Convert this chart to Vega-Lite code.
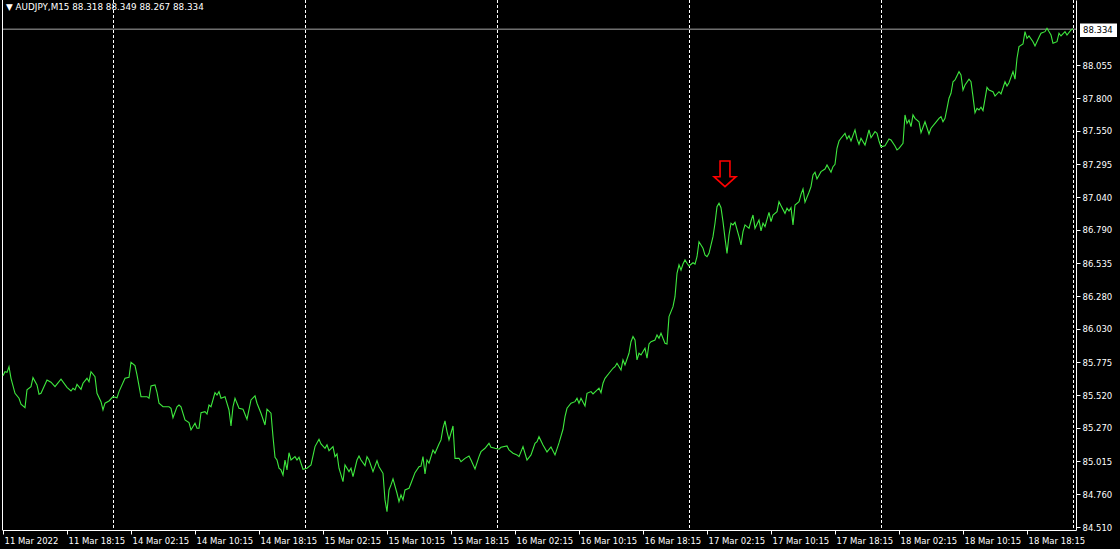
{
  "$schema": "https://vega.github.io/schema/vega-lite/v6.json",
  "width": 1074,
  "height": 530,
  "autosize": {"type": "none"},
  "padding": {"left": 2, "top": 0, "right": 44, "bottom": 19},
  "background": "#000000",
  "config": {"view": {"stroke": null, "fill": "#000000"}, "font": "DejaVu Sans"},
  "resolve": {"axis": {"x": "independent", "y": "independent"}},
  "datasets": {
    "price": [
      {"i":0,"p":85.671},{"i":1,"p":85.702},{"i":2,"p":85.697},{"i":3,"p":85.740},{"i":4,"p":85.651},{"i":6,"p":85.536},{"i":8,"p":85.498},{"i":9,"p":85.452},{"i":11,"p":85.426},{"i":12,"p":85.562},{"i":14,"p":85.587},{"i":15,"p":85.656},{"i":17,"p":85.600},{"i":18,"p":85.529},{"i":19,"p":85.536},{"i":22,"p":85.638},{"i":24,"p":85.621},{"i":26,"p":85.587},{"i":29,"p":85.644},{"i":32,"p":85.582},{"i":34,"p":85.554},{"i":35,"p":85.575},{"i":36,"p":85.562},{"i":37,"p":85.605},{"i":39,"p":85.567},{"i":40,"p":85.613},{"i":42,"p":85.651},{"i":43,"p":85.625},{"i":44,"p":85.702},{"i":46,"p":85.664},{"i":47,"p":85.536},{"i":49,"p":85.472},{"i":50,"p":85.408},{"i":51,"p":85.460},{"i":53,"p":85.477},{"i":55,"p":85.510},{"i":57,"p":85.502},{"i":58,"p":85.549},{"i":61,"p":85.651},{"i":63,"p":85.659},{"i":64,"p":85.774},{"i":66,"p":85.748},{"i":67,"p":85.677},{"i":69,"p":85.510},{"i":72,"p":85.510},{"i":73,"p":85.498},{"i":74,"p":85.592},{"i":76,"p":85.600},{"i":77,"p":85.544},{"i":78,"p":85.460},{"i":80,"p":85.433},{"i":83,"p":85.433},{"i":84,"p":85.421},{"i":85,"p":85.349},{"i":87,"p":85.433},{"i":88,"p":85.446},{"i":89,"p":85.433},{"i":91,"p":85.331},{"i":93,"p":85.311},{"i":94,"p":85.255},{"i":96,"p":85.306},{"i":97,"p":85.268},{"i":98,"p":85.268},{"i":99,"p":85.387},{"i":101,"p":85.395},{"i":102,"p":85.377},{"i":103,"p":85.446},{"i":104,"p":85.433},{"i":106,"p":85.541},{"i":107,"p":85.523},{"i":108,"p":85.549},{"i":109,"p":85.498},{"i":111,"p":85.510},{"i":113,"p":85.408},{"i":114,"p":85.285},{"i":115,"p":85.433},{"i":116,"p":85.498},{"i":118,"p":85.421},{"i":120,"p":85.414},{"i":122,"p":85.337},{"i":124,"p":85.485},{"i":126,"p":85.516},{"i":127,"p":85.460},{"i":129,"p":85.383},{"i":131,"p":85.293},{"i":132,"p":85.414},{"i":134,"p":85.383},{"i":135,"p":85.203},{"i":136,"p":85.045},{"i":137,"p":85.024},{"i":138,"p":84.961},{"i":139,"p":84.948},{"i":140,"p":84.909},{"i":141,"p":85.024},{"i":142,"p":84.948},{"i":143,"p":85.080},{"i":144,"p":85.024},{"i":146,"p":85.050},{"i":147,"p":85.024},{"i":148,"p":85.045},{"i":150,"p":84.953},{"i":152,"p":84.961},{"i":154,"p":84.986},{"i":156,"p":85.127},{"i":158,"p":85.183},{"i":159,"p":85.147},{"i":161,"p":85.114},{"i":162,"p":85.140},{"i":163,"p":85.096},{"i":165,"p":85.127},{"i":166,"p":85.050},{"i":167,"p":85.071},{"i":168,"p":84.961},{"i":170,"p":84.858},{"i":171,"p":84.986},{"i":173,"p":84.935},{"i":174,"p":84.961},{"i":175,"p":84.896},{"i":177,"p":85.024},{"i":178,"p":85.055},{"i":179,"p":85.024},{"i":181,"p":84.981},{"i":182,"p":85.050},{"i":183,"p":85.024},{"i":185,"p":84.935},{"i":187,"p":85.019},{"i":188,"p":84.973},{"i":190,"p":84.922},{"i":191,"p":84.718},{"i":192,"p":84.628},{"i":193,"p":84.794},{"i":194,"p":84.833},{"i":195,"p":84.879},{"i":197,"p":84.769},{"i":198,"p":84.705},{"i":199,"p":84.756},{"i":200,"p":84.718},{"i":201,"p":84.794},{"i":203,"p":84.807},{"i":204,"p":84.846},{"i":206,"p":84.927},{"i":208,"p":84.973},{"i":209,"p":84.978},{"i":210,"p":85.050},{"i":211,"p":84.917},{"i":212,"p":85.024},{"i":213,"p":84.999},{"i":215,"p":85.101},{"i":216,"p":85.076},{"i":218,"p":85.147},{"i":219,"p":85.178},{"i":220,"p":85.268},{"i":221,"p":85.324},{"i":222,"p":85.242},{"i":223,"p":85.178},{"i":225,"p":85.285},{"i":226,"p":85.037},{"i":228,"p":85.037},{"i":229,"p":85.011},{"i":231,"p":85.037},{"i":233,"p":85.055},{"i":234,"p":85.024},{"i":236,"p":84.955},{"i":238,"p":85.050},{"i":239,"p":85.088},{"i":241,"p":85.114},{"i":243,"p":85.152},{"i":244,"p":85.122},{"i":246,"p":85.114},{"i":248,"p":85.107},{"i":249,"p":85.122},{"i":252,"p":85.132},{"i":253,"p":85.101},{"i":255,"p":85.076},{"i":257,"p":85.063},{"i":258,"p":85.050},{"i":260,"p":85.127},{"i":262,"p":85.024},{"i":264,"p":85.063},{"i":266,"p":85.152},{"i":267,"p":85.165},{"i":268,"p":85.203},{"i":270,"p":85.140},{"i":272,"p":85.086},{"i":274,"p":85.124},{"i":276,"p":85.063},{"i":278,"p":85.155},{"i":280,"p":85.260},{"i":281,"p":85.357},{"i":282,"p":85.421},{"i":284,"p":85.460},{"i":286,"p":85.472},{"i":287,"p":85.498},{"i":288,"p":85.460},{"i":289,"p":85.498},{"i":291,"p":85.439},{"i":292,"p":85.536},{"i":294,"p":85.549},{"i":295,"p":85.531},{"i":298,"p":85.575},{"i":299,"p":85.541},{"i":300,"p":85.613},{"i":301,"p":85.651},{"i":303,"p":85.690},{"i":305,"p":85.728},{"i":306,"p":85.740},{"i":307,"p":85.766},{"i":309,"p":85.715},{"i":310,"p":85.792},{"i":311,"p":85.753},{"i":313,"p":85.843},{"i":314,"p":85.932},{"i":315,"p":85.971},{"i":316,"p":85.945},{"i":317,"p":85.792},{"i":318,"p":85.843},{"i":319,"p":85.830},{"i":321,"p":85.882},{"i":322,"p":85.805},{"i":323,"p":85.915},{"i":324,"p":85.932},{"i":326,"p":85.945},{"i":327,"p":85.984},{"i":328,"p":85.958},{"i":329,"p":85.997},{"i":331,"p":85.920},{"i":332,"p":85.915},{"i":333,"p":86.124},{"i":335,"p":86.201},{"i":336,"p":86.277},{"i":337,"p":86.457},{"i":338,"p":86.521},{"i":339,"p":86.482},{"i":340,"p":86.528},{"i":341,"p":86.559},{"i":342,"p":86.534},{"i":343,"p":86.513},{"i":345,"p":86.538},{"i":346,"p":86.528},{"i":347,"p":86.584},{"i":348,"p":86.699},{"i":350,"p":86.649},{"i":351,"p":86.597},{"i":352,"p":86.584},{"i":353,"p":86.610},{"i":355,"p":86.738},{"i":356,"p":86.841},{"i":357,"p":86.968},{"i":358,"p":86.994},{"i":359,"p":86.960},{"i":360,"p":86.853},{"i":361,"p":86.726},{"i":362,"p":86.610},{"i":363,"p":86.751},{"i":364,"p":86.841},{"i":365,"p":86.828},{"i":366,"p":86.848},{"i":368,"p":86.738},{"i":369,"p":86.674},{"i":370,"p":86.776},{"i":371,"p":86.828},{"i":373,"p":86.802},{"i":374,"p":86.858},{"i":375,"p":86.904},{"i":376,"p":86.802},{"i":378,"p":86.866},{"i":379,"p":86.782},{"i":380,"p":86.841},{"i":381,"p":86.815},{"i":383,"p":86.925},{"i":384,"p":86.853},{"i":385,"p":86.904},{"i":387,"p":86.930},{"i":388,"p":87.006},{"i":389,"p":86.976},{"i":391,"p":86.917},{"i":392,"p":86.956},{"i":393,"p":86.935},{"i":394,"p":86.960},{"i":395,"p":86.828},{"i":396,"p":86.981},{"i":398,"p":87.006},{"i":399,"p":87.063},{"i":400,"p":87.104},{"i":401,"p":87.002},{"i":403,"p":87.079},{"i":404,"p":87.122},{"i":405,"p":87.211},{"i":406,"p":87.232},{"i":407,"p":87.181},{"i":409,"p":87.237},{"i":411,"p":87.257},{"i":412,"p":87.288},{"i":414,"p":87.232},{"i":415,"p":87.275},{"i":416,"p":87.293},{"i":417,"p":87.416},{"i":418,"p":87.472},{"i":419,"p":87.493},{"i":421,"p":87.531},{"i":422,"p":87.488},{"i":423,"p":87.513},{"i":424,"p":87.472},{"i":426,"p":87.557},{"i":427,"p":87.488},{"i":428,"p":87.447},{"i":429,"p":87.493},{"i":431,"p":87.441},{"i":432,"p":87.497},{"i":433,"p":87.557},{"i":434,"p":87.497},{"i":436,"p":87.544},{"i":437,"p":87.531},{"i":438,"p":87.472},{"i":439,"p":87.428},{"i":441,"p":87.436},{"i":443,"p":87.488},{"i":444,"p":87.480},{"i":446,"p":87.434},{"i":447,"p":87.403},{"i":448,"p":87.416},{"i":450,"p":87.454},{"i":451,"p":87.672},{"i":452,"p":87.608},{"i":453,"p":87.633},{"i":454,"p":87.582},{"i":455,"p":87.672},{"i":456,"p":87.646},{"i":458,"p":87.620},{"i":459,"p":87.536},{"i":461,"p":87.620},{"i":463,"p":87.526},{"i":464,"p":87.570},{"i":466,"p":87.608},{"i":468,"p":87.646},{"i":469,"p":87.659},{"i":470,"p":87.620},{"i":471,"p":87.646},{"i":472,"p":87.723},{"i":473,"p":87.800},{"i":474,"p":87.838},{"i":475,"p":87.927},{"i":476,"p":87.940},{"i":478,"p":88.004},{"i":479,"p":87.979},{"i":480,"p":87.863},{"i":481,"p":87.902},{"i":483,"p":87.946},{"i":484,"p":87.927},{"i":485,"p":87.812},{"i":486,"p":87.689},{"i":487,"p":87.723},{"i":488,"p":87.710},{"i":489,"p":87.731},{"i":490,"p":87.705},{"i":492,"p":87.884},{"i":493,"p":87.863},{"i":495,"p":87.850},{"i":496,"p":87.817},{"i":498,"p":87.850},{"i":499,"p":87.833},{"i":501,"p":87.927},{"i":502,"p":87.894},{"i":503,"p":87.919},{"i":505,"p":88.004},{"i":506,"p":87.946},{"i":507,"p":88.107},{"i":508,"p":88.196},{"i":510,"p":88.216},{"i":511,"p":88.311},{"i":512,"p":88.260},{"i":513,"p":88.278},{"i":515,"p":88.234},{"i":516,"p":88.201},{"i":518,"p":88.268},{"i":519,"p":88.299},{"i":521,"p":88.311},{"i":522,"p":88.337},{"i":524,"p":88.285},{"i":525,"p":88.222},{"i":527,"p":88.234},{"i":528,"p":88.299},{"i":529,"p":88.278},{"i":531,"p":88.311},{"i":532,"p":88.285},{"i":534,"p":88.324},{"i":535,"p":88.334}
    ],
    "separators": [{"i":55},{"i":151},{"i":247},{"i":343},{"i":439},{"i":535}],
    "last": [{"p":88.334,"label":"88.334"}],
    "signal": [{"i":361,"p":87.22}],
    "header": [{"t":"▼  AUDJPY,M15  88.318 88.349 88.267 88.334"}]
  },
  "layer": [
    {
      "data": {"name": "separators"},
      "mark": {"type": "rule", "color": "#ffffff", "strokeWidth": 1, "strokeDash": [3, 2], "xOffset": 0.5},
      "encoding": {
        "x": {"field": "i", "type": "quantitative", "scale": {"domain": [-0.5, 536.5], "nice": false, "zero": false}, "axis": null}
      }
    },
    {
      "data": {"name": "last"},
      "mark": {"type": "rule", "color": "#a8a8a8", "strokeWidth": 1, "yOffset": 0.5},
      "encoding": {
        "y": {"field": "p", "type": "quantitative", "scale": {"domain": [84.487, 88.554], "nice": false, "zero": false}, "axis": null}
      }
    },
    {
      "data": {"values": [{"i": -0.5}]},
      "mark": {"type": "rule", "color": "#ffffff", "strokeWidth": 1, "xOffset": 0.5},
      "encoding": {
        "x": {"field": "i", "type": "quantitative", "scale": {"domain": [-0.5, 536.5], "nice": false, "zero": false}, "axis": null}
      }
    },
    {
      "data": {"name": "price"},
      "mark": {"type": "line", "color": "#3ee83e", "strokeWidth": 1.1, "interpolate": "linear"},
      "encoding": {
        "x": {
          "field": "i", "type": "quantitative",
          "scale": {"domain": [-0.5, 536.5], "nice": false, "zero": false},
          "axis": {
            "values": [0, 32, 64, 96, 128, 160, 192, 224, 256, 288, 320, 352, 384, 416, 448, 480, 512],
            "labelExpr": "['11 Mar 2022','11 Mar 18:15','14 Mar 02:15','14 Mar 10:15','14 Mar 18:15','15 Mar 02:15','15 Mar 10:15','15 Mar 18:15','16 Mar 02:15','16 Mar 10:15','16 Mar 18:15','17 Mar 02:15','17 Mar 10:15','17 Mar 18:15','18 Mar 02:15','18 Mar 10:15','18 Mar 18:15'][round(datum.value/32)]",
            "labelAlign": "left", "labelBaseline": "top", "labelPadding": 2, "labelOffset": 1,
            "labelColor": "#ffffff", "labelFont": "DejaVu Sans", "labelFontSize": 8.5,
            "labelOverlap": false, "labelFlush": false, "labelBound": false,
            "tickColor": "#ffffff", "tickSize": 4, "domainColor": "#ffffff",
            "grid": false, "title": null
          }
        },
        "y": {
          "field": "p", "type": "quantitative",
          "scale": {"domain": [84.487, 88.554], "nice": false, "zero": false},
          "axis": {
            "orient": "right",
            "values": [84.51, 84.76, 85.015, 85.27, 85.52, 85.775, 86.03, 86.28, 86.535, 86.79, 87.04, 87.295, 87.55, 87.8, 88.055],
            "format": ".3f",
            "labelColor": "#ffffff", "labelFont": "DejaVu Sans", "labelFontSize": 8.5,
            "labelPadding": 2, "labelOverlap": false, "labelFlush": false, "labelBound": false,
            "tickColor": "#ffffff", "tickSize": 4, "domainColor": "#ffffff",
            "grid": false, "title": null
          }
        }
      }
    },
    {
      "data": {"name": "signal"},
      "mark": {
        "type": "point",
        "shape": "M-0.45,-1.17L0.45,-1.17L0.45,0.26L1,0.26L0,1.17L-1,0.26L-0.45,0.26Z",
        "filled": false, "stroke": "#ff0000", "strokeWidth": 1.6, "size": 484, "opacity": 1
      },
      "encoding": {
        "x": {"field": "i", "type": "quantitative", "scale": {"domain": [-0.5, 536.5], "nice": false, "zero": false}, "axis": null},
        "y": {"field": "p", "type": "quantitative", "scale": {"domain": [84.487, 88.554], "nice": false, "zero": false}, "axis": null}
      }
    },
    {
      "data": {"name": "last"},
      "mark": {"type": "rect", "fill": "#ffffff"},
      "encoding": {
        "x": {"datum": 538.5, "type": "quantitative", "scale": {"domain": [-0.5, 536.5], "nice": false, "zero": false}, "axis": null},
        "x2": {"datum": 557},
        "y": {"datum": 88.374, "type": "quantitative", "scale": {"domain": [84.487, 88.554], "nice": false, "zero": false}, "axis": null},
        "y2": {"datum": 88.270}
      }
    },
    {
      "data": {"name": "last"},
      "mark": {"type": "text", "color": "#000000", "align": "left", "baseline": "middle", "font": "DejaVu Sans", "fontSize": 8.5},
      "encoding": {
        "x": {"datum": 540, "type": "quantitative", "scale": {"domain": [-0.5, 536.5], "nice": false, "zero": false}, "axis": null},
        "y": {"datum": 88.322, "type": "quantitative", "scale": {"domain": [84.487, 88.554], "nice": false, "zero": false}, "axis": null},
        "text": {"field": "label"}
      }
    },
    {
      "data": {"name": "header"},
      "mark": {"type": "text", "color": "#ffffff", "align": "left", "baseline": "middle", "font": "DejaVu Sans", "fontSize": 8.8},
      "encoding": {
        "x": {"datum": 1.5, "type": "quantitative", "scale": {"domain": [-0.5, 536.5], "nice": false, "zero": false}, "axis": null},
        "y": {"datum": 88.5, "type": "quantitative", "scale": {"domain": [84.487, 88.554], "nice": false, "zero": false}, "axis": null},
        "text": {"field": "t"}
      }
    }
  ]
}
